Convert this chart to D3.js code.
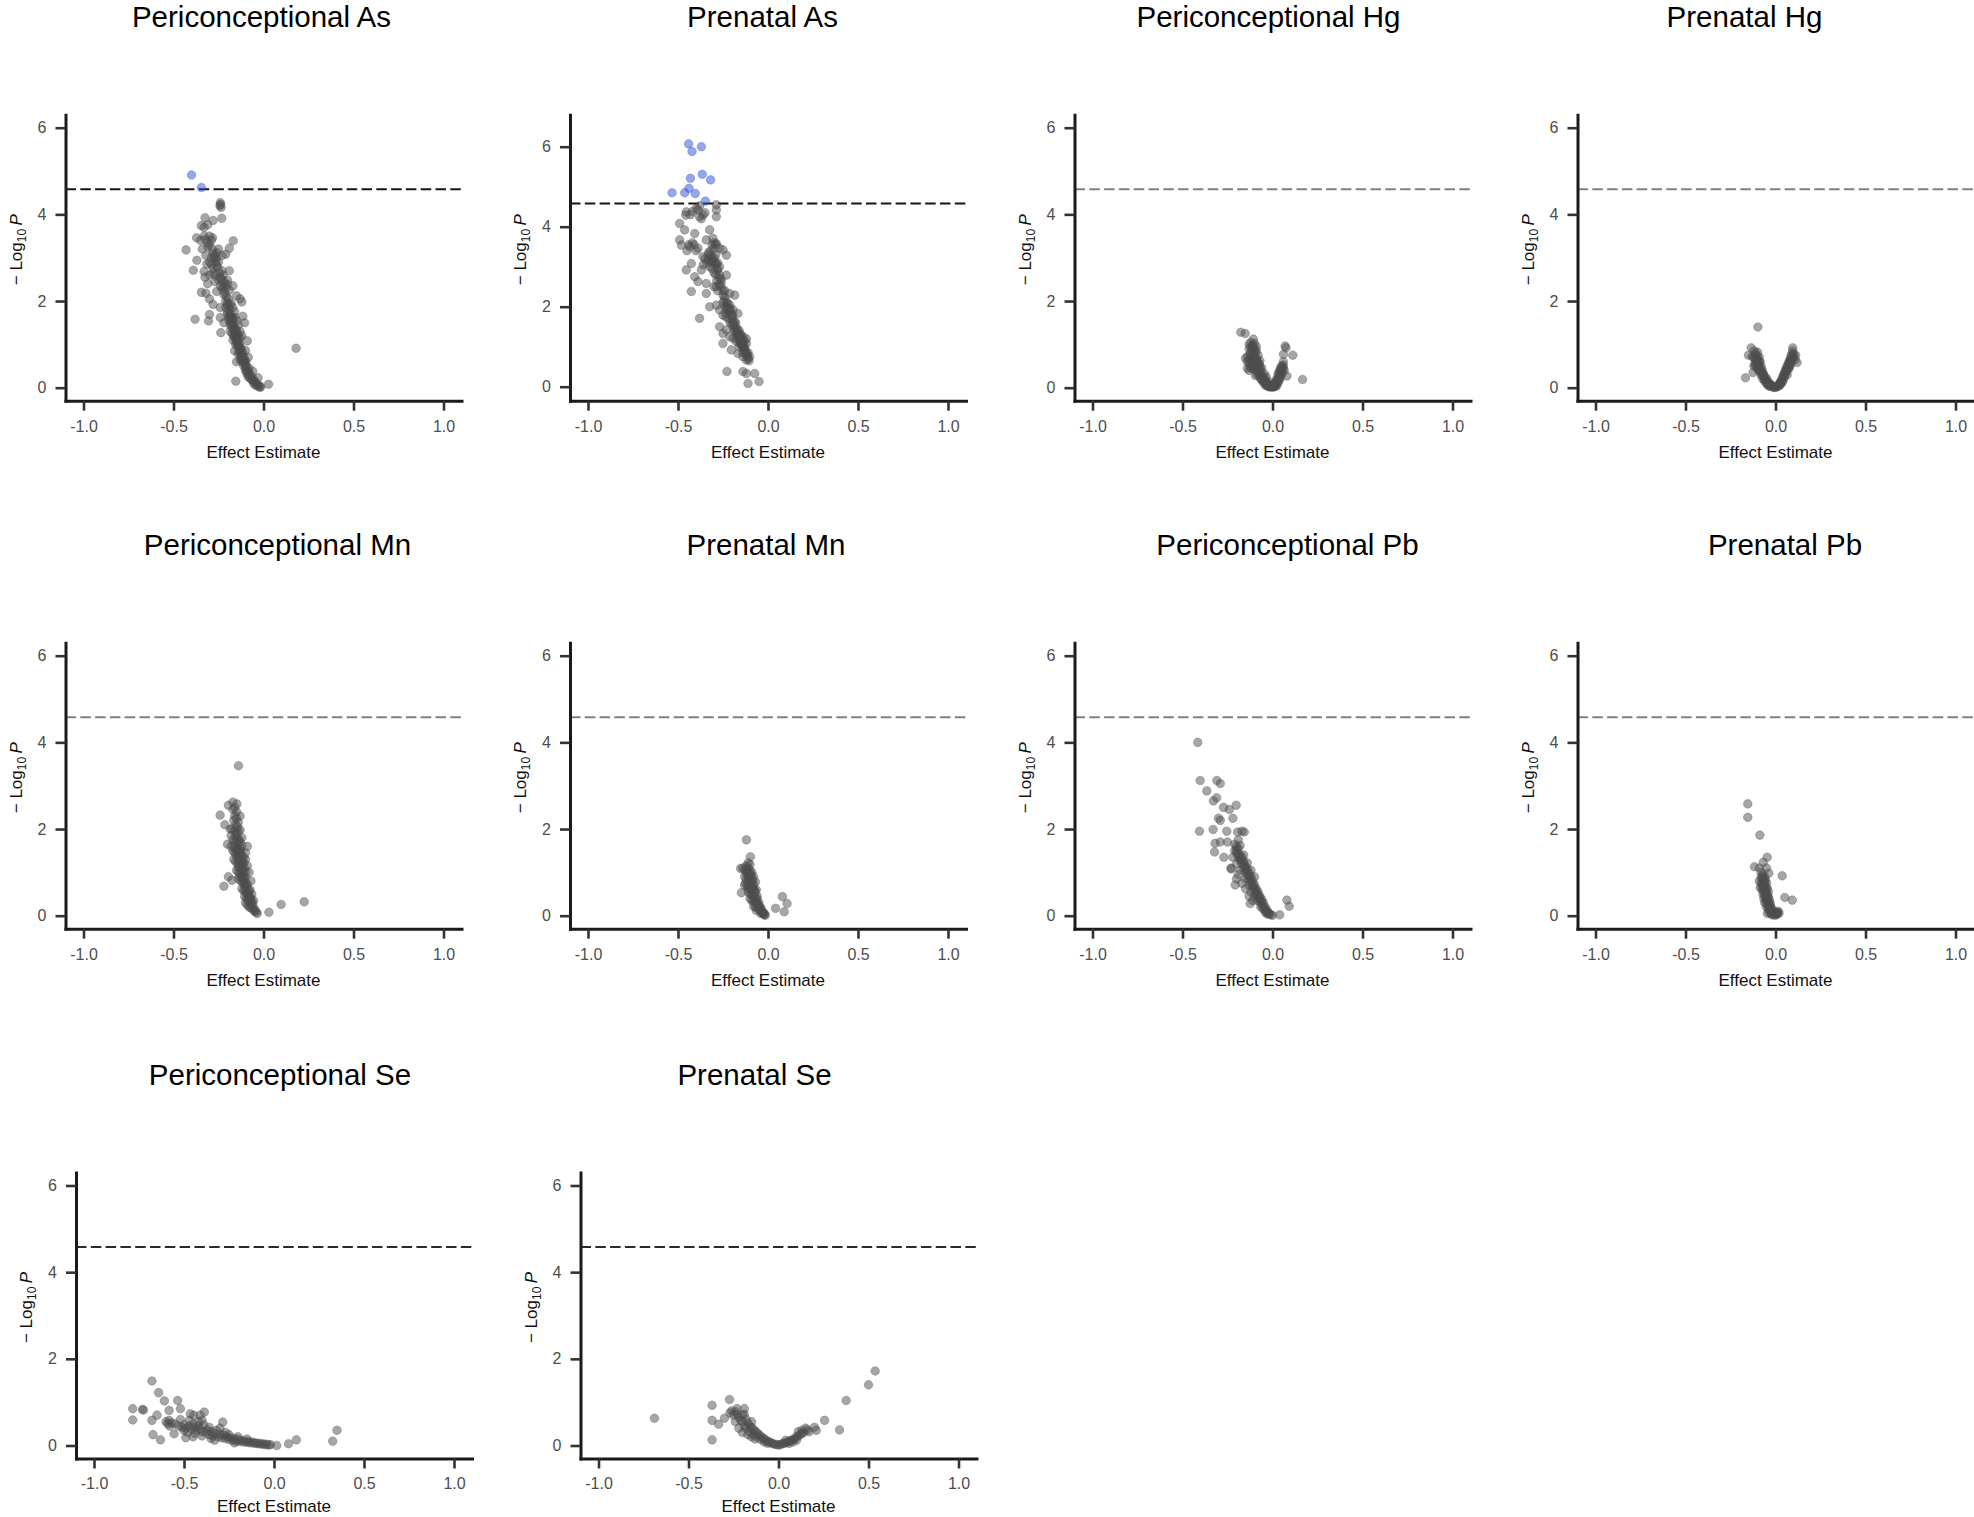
<!DOCTYPE html>
<html><head><meta charset="utf-8">
<script src="https://cdn.jsdelivr.net/npm/d3@7"></script>
<style>
body{margin:0;background:#fff}
svg{display:block;background:#fff}
text{font-family:"Liberation Sans",Arial,Helvetica,sans-serif}
</style>
</head><body>
<svg id="chart" width="1974" height="1517"></svg>
<script>
// ---------------- DATA ----------------
const panelTitles = ["Periconceptional As","Prenatal As","Periconceptional Hg","Prenatal Hg",
  "Periconceptional Mn","Prenatal Mn","Periconceptional Pb","Prenatal Pb",
  "Periconceptional Se","Prenatal Se"];
const xTickValues = [-1,-0.5,0,0.5,1];
const xTickLabels = ["-1.0","-0.5","0.0","0.5","1.0"];
const yTickValues = [0,2,4,6];
const yTickLabels = ["0","2","4","6"];
const threshold = 4.58;
const xLabel = "Effect Estimate";

const periAs = [[-0.40,4.91],[-0.345,4.62],
[-0.24,4.27],[-0.242,4.2],[-0.236,4.16],[-0.238,4.23],
[-0.325,3.92],[-0.28,3.86],[-0.232,3.91],[-0.345,3.74],[-0.31,3.76],[-0.33,3.7],
[-0.372,3.46],[-0.35,3.4],[-0.325,3.42],[-0.283,3.46],[-0.168,3.39],[-0.19,3.22],[-0.43,3.18],
[-0.31,3.25],[-0.26,3.12],[-0.23,3.05],[-0.21,3.08],[-0.25,3.2],[-0.29,3.0],
[-0.37,2.94],[-0.315,2.85],[-0.26,2.82],[-0.28,2.75],[-0.39,2.71],[-0.33,2.68],[-0.19,2.7],[-0.325,2.55],
[-0.24,2.55],[-0.2,2.48],[-0.17,2.35],[-0.345,2.2],[-0.32,2.18],[-0.3,2.05],[-0.26,2.22],[-0.23,2.28],
[-0.19,2.25],[-0.2,2.38],[-0.22,2.15],[-0.15,2.12],[-0.13,2.05],[-0.12,1.98],[-0.28,1.92],[-0.24,1.85],
[-0.2,1.9],[-0.17,1.85],[-0.16,1.75],[-0.3,1.69],[-0.38,1.58],[-0.305,1.54],[-0.24,1.62],[-0.22,1.5],
[-0.17,1.62],[-0.115,1.65],[-0.105,1.5],[-0.237,1.27],[-0.185,1.3],[-0.15,1.22],[-0.13,1.15],[-0.09,1.08],
[-0.17,1.1],[-0.155,1.0],[-0.16,0.85],[-0.14,0.78],[-0.13,0.65],[-0.1,0.62],[-0.08,0.45],[-0.06,0.38],
[-0.15,0.6],[-0.1,0.86],[-0.085,0.7],[0.181,0.91],[-0.154,0.15],[-0.055,0.15],[-0.035,0.07],[-0.015,0.02],
[0.028,0.08],[-0.03,0.23],
[-0.21,2.0],[-0.2,1.95],[-0.19,1.8],[-0.185,1.7],[-0.18,1.62],[-0.175,1.55],[-0.17,1.48],[-0.16,1.4],[-0.155,1.35],[-0.15,1.3],[-0.145,1.25],[-0.14,1.18],[-0.14,1.1],[-0.135,1.02],[-0.13,0.95],[-0.125,0.9],[-0.12,0.85],[-0.115,0.78],[-0.11,0.7],[-0.105,0.62],[-0.1,0.55],[-0.095,0.5],[-0.09,0.42],[-0.08,0.35],[-0.07,0.28],[-0.06,0.22],[-0.05,0.15],[-0.04,0.1],[-0.025,0.05],
[-0.19,1.55],[-0.175,1.4],[-0.165,1.3],[-0.16,1.15],[-0.15,1.05],[-0.145,0.95],[-0.135,0.85],[-0.125,0.75],[-0.12,0.6],[-0.11,0.5],[-0.1,0.4],[-0.09,0.32],[-0.085,0.25],
[-0.2,1.7],[-0.195,1.6],[-0.185,1.45],[-0.175,1.25],[-0.165,1.2],[-0.12,1.2],[-0.13,1.3],[-0.14,1.45],[-0.15,1.55],[-0.16,1.62],[-0.18,1.95],[-0.21,2.3],[-0.215,2.4],[-0.225,2.6],[-0.23,2.7],[-0.25,2.9],[-0.26,3.0],[-0.27,3.05],[-0.28,3.1],[-0.3,3.3],[-0.31,3.35],[-0.33,3.5],[-0.3,2.6],[-0.31,2.4],[-0.27,2.45],
[-0.225,2.35],[-0.215,2.2],[-0.205,2.1],[-0.195,2.05],[-0.185,1.9],[-0.21,1.85],[-0.2,1.75],[-0.19,1.65],[-0.175,1.6],[-0.18,1.5],[-0.17,1.42],[-0.16,1.32],[-0.155,1.2],[-0.15,1.12],[-0.145,1.08],[-0.14,1.0],[-0.135,0.92],[-0.13,0.82],[-0.125,0.7],[-0.115,0.65],[-0.11,0.58],[-0.1,0.48],[-0.095,0.38],[-0.085,0.3],[-0.075,0.22],[-0.065,0.18],[-0.055,0.1],[-0.045,0.06],[-0.03,0.03],[-0.02,0.01],
[-0.235,2.5],[-0.245,2.65],[-0.255,2.78],[-0.265,2.9],[-0.275,3.0],[-0.285,3.2],[-0.29,3.4],[-0.3,3.5],[-0.22,2.45],[-0.24,2.35],[-0.25,2.5],[-0.27,2.6],[-0.28,2.65],[-0.29,2.85],[-0.3,2.9],[-0.32,3.05],[-0.34,3.2]];

const preAs = [[-0.441,6.07],[-0.422,5.88],[-0.37,6.0],[-0.431,5.21],[-0.365,5.31],[-0.319,5.17],
[-0.533,4.85],[-0.463,4.85],[-0.439,4.96],[-0.404,4.83],[-0.348,4.64],
[-0.287,4.55],[-0.38,4.52],[-0.398,4.46],[-0.454,4.37],[-0.457,4.29],[-0.389,4.42],[-0.38,4.25],[-0.287,4.42],[-0.287,4.25],
[-0.491,4.08],[-0.463,3.92],[-0.407,3.83],[-0.324,3.92],[-0.491,3.67],[-0.481,3.54],[-0.435,3.5],[-0.389,3.46],[-0.343,3.67],
[-0.306,3.71],[-0.287,3.58],[-0.269,3.46],[-0.315,3.25],[-0.361,3.25],[-0.333,3.17],[-0.287,3.08],[-0.25,3.42],[-0.231,3.29],
[-0.426,3.08],[-0.454,2.92],[-0.37,2.92],[-0.324,3.0],[-0.269,3.0],[-0.231,2.79],[-0.407,2.75],[-0.389,2.63],[-0.343,2.58],
[-0.287,2.5],[-0.426,2.38],[-0.343,2.33],[-0.25,2.29],[-0.213,2.33],[-0.185,2.29],[-0.324,2.0],[-0.287,2.04],[-0.269,1.92],
[-0.25,1.79],[-0.231,1.83],[-0.213,2.04],[-0.194,1.92],[-0.167,1.83],[-0.38,1.71],[-0.269,1.5],[-0.25,1.33],[-0.231,1.42],
[-0.213,1.25],[-0.194,1.21],[-0.176,1.13],[-0.157,1.08],[-0.139,1.25],[-0.12,1.08],[-0.25,1.08],[-0.204,0.92],[-0.167,0.83],
[-0.139,0.75],[-0.12,0.67],[-0.102,0.75],[-0.228,0.38],[-0.139,0.38],[-0.12,0.33],[-0.074,0.33],[-0.111,0.08],[-0.05,0.13],
[-0.3,3.6],[-0.29,3.55],[-0.31,3.2],[-0.32,3.15],[-0.3,3.12],[-0.28,2.9],[-0.29,2.8],[-0.27,2.7],[-0.26,2.62],[-0.27,2.55],
[-0.25,2.1],[-0.24,2.0],[-0.23,1.95],[-0.22,1.9],[-0.235,1.75],[-0.22,1.7],[-0.21,1.6],[-0.2,1.55],[-0.19,1.45],[-0.185,1.38],
[-0.17,1.3],[-0.165,1.25],[-0.155,1.18],[-0.15,1.12],[-0.145,1.05],[-0.14,1.0],[-0.135,0.95],[-0.13,0.9],[-0.125,0.85],[-0.115,0.8],
[-0.2,1.8],[-0.18,1.6],[-0.16,1.4],[-0.15,1.3],[-0.13,1.15],[-0.12,1.2],[-0.175,1.2],[-0.16,1.0],[-0.14,0.85],
[-0.43,4.3],[-0.42,4.38],[-0.36,4.3],[-0.35,4.35],[-0.37,4.2],[-0.41,3.55],[-0.44,3.55],[-0.33,3.3],[-0.34,3.1],[-0.31,2.95],[-0.3,2.5],[-0.28,2.4],
[-0.31,3.55],[-0.3,3.45],[-0.32,3.4],[-0.33,3.35],[-0.29,3.3],[-0.3,3.22],[-0.31,3.1],[-0.29,3.05],[-0.28,2.95],[-0.3,2.85],[-0.27,2.8],[-0.285,2.65],[-0.26,2.5],[-0.25,2.4],[-0.24,2.25],[-0.245,2.15],[-0.23,2.1],[-0.225,2.0],[-0.215,1.95],[-0.21,1.85],[-0.2,1.7],[-0.195,1.62],[-0.19,1.55],[-0.18,1.48],[-0.175,1.4],[-0.17,1.35],[-0.16,1.28],[-0.155,1.22],[-0.15,1.15],[-0.145,1.1],[-0.14,1.05],[-0.135,0.98],[-0.13,0.92],[-0.125,0.88],[-0.12,0.82],[-0.115,0.75],[-0.11,0.7],[-0.105,0.65],[-0.11,0.85],[-0.13,1.0],[-0.14,1.15],[-0.155,1.3],[-0.17,1.45],[-0.185,1.62],[-0.195,1.78],[-0.21,1.95],[-0.225,2.1],[-0.24,2.4],[-0.26,2.7],[-0.28,3.1],[-0.35,3.2],[-0.36,3.05],[-0.4,3.4],[-0.42,3.6],[-0.45,3.4]];

const periHg = [[-0.176,1.28],[-0.152,1.25],[-0.106,1.12],[0.07,0.96],[0.061,0.77],[0.113,0.75],[0.167,0.19],[0.08,0.27],[0.075,0.92],[-0.12,1.05],
[-0.13,1.0],[-0.12,0.95],[-0.11,0.98],[-0.1,1.02],[-0.09,0.95],[-0.115,0.88],[-0.105,0.85],[-0.095,0.82],[-0.125,0.78],[-0.14,0.72],
[-0.15,0.68],[-0.13,0.66],[-0.12,0.7],[-0.11,0.72],[-0.1,0.7],[-0.09,0.68],[-0.08,0.75],[-0.085,0.6],[-0.095,0.55],[-0.105,0.58],
[-0.115,0.6],[-0.125,0.5],[-0.14,0.45],[-0.11,0.45],[-0.1,0.42],[-0.09,0.4],[-0.08,0.45],[-0.07,0.5],[-0.065,0.38],[-0.075,0.32],
[-0.085,0.3],[-0.095,0.28],[-0.06,0.3],[-0.055,0.25],[-0.05,0.2],[-0.045,0.22],[-0.065,0.2],[-0.04,0.15],[-0.035,0.12],[-0.03,0.1],
[-0.025,0.08],[-0.02,0.06],[-0.015,0.04],[-0.01,0.02],[-0.005,0.01],[-0.05,0.12],[-0.04,0.06],[-0.03,0.04],[-0.02,0.02],[-0.1,0.5],
[-0.12,0.55],[-0.13,0.6],[-0.07,0.62],[-0.075,0.55],[-0.06,0.45],[-0.045,0.32],[-0.035,0.25],[-0.025,0.15],
[0.005,0.02],[0.01,0.05],[0.015,0.08],[0.02,0.12],[0.025,0.18],[0.03,0.2],[0.035,0.25],[0.04,0.3],[0.045,0.36],[0.05,0.42],
[0.055,0.48],[0.06,0.52],[0.05,0.3],[0.04,0.2],[0.03,0.12],[0.02,0.06],[0.01,0.02],[0.045,0.25],[0.055,0.35],[0.065,0.4],
[0.06,0.6],[0.035,0.15],[0.025,0.05],[0.015,0.03],
[-0.11,0.92],[-0.1,0.9],[-0.09,0.85],[-0.12,0.82],[-0.1,0.78],[-0.09,0.62],[-0.08,0.58],[-0.07,0.45],[-0.1,0.62],[-0.11,0.52],
[-0.12,0.45],[-0.08,0.35],[-0.07,0.25],[-0.06,0.18],[-0.05,0.15],[-0.04,0.1],[-0.03,0.06],[-0.02,0.03],[0.04,0.4],[0.05,0.5],
[0.06,0.45],[0.045,0.45],[0.035,0.35],[0.03,0.3],[0.02,0.18],[0.01,0.1],[0.0,0.03],[-0.13,0.9],[-0.14,0.6],[-0.13,0.4]];

const preHg = [[-0.098,1.4],[-0.135,0.92],[-0.167,0.23],[-0.15,0.75],[0.096,0.92],[0.12,0.58],[0.112,0.75],[-0.125,0.35],[0.1,0.75],[0.085,0.65],
[-0.12,0.85],[-0.11,0.8],[-0.1,0.82],[-0.12,0.7],[-0.13,0.72],[-0.11,0.68],[-0.1,0.65],[-0.09,0.7],[-0.085,0.6],[-0.095,0.55],
[-0.105,0.58],[-0.115,0.55],[-0.12,0.5],[-0.1,0.45],[-0.09,0.48],[-0.08,0.5],[-0.075,0.42],[-0.085,0.38],[-0.095,0.4],[-0.07,0.35],
[-0.065,0.3],[-0.075,0.28],[-0.06,0.25],[-0.055,0.2],[-0.05,0.22],[-0.045,0.15],[-0.04,0.12],[-0.035,0.1],[-0.03,0.08],[-0.025,0.06],
[-0.02,0.04],[-0.015,0.02],[-0.01,0.01],[-0.005,0.005],[-0.06,0.15],[-0.05,0.1],[-0.04,0.05],[-0.03,0.03],[-0.08,0.3],[-0.07,0.2],
[-0.1,0.6],[-0.11,0.5],
[0.005,0.01],[0.01,0.03],[0.015,0.05],[0.02,0.08],[0.025,0.12],[0.03,0.15],[0.035,0.2],[0.04,0.25],[0.045,0.3],[0.05,0.35],
[0.055,0.4],[0.06,0.45],[0.065,0.5],[0.07,0.55],[0.075,0.6],[0.08,0.65],[0.085,0.72],[0.09,0.78],[0.07,0.42],[0.06,0.35],
[0.05,0.25],[0.04,0.15],[0.03,0.08],[0.02,0.04],[0.08,0.5],[0.09,0.6],[0.1,0.68],[0.095,0.85],[0.075,0.45],[0.065,0.3],
[-0.11,0.75],[-0.1,0.72],[-0.09,0.6],[-0.08,0.4],[-0.07,0.3],[-0.06,0.2],[-0.05,0.15],[-0.045,0.08],[-0.035,0.05],[-0.11,0.62],
[-0.1,0.52],[-0.09,0.42],[0.05,0.3],[0.06,0.4],[0.07,0.48],[0.08,0.58],[0.09,0.68],[0.1,0.78],[0.11,0.65],[0.045,0.2],
[0.035,0.12],[0.025,0.08],[0.085,0.55]];

const periMn = [[-0.139,3.46],[-0.241,2.32],[-0.17,2.62],[-0.195,2.55],[-0.148,2.58],[-0.13,2.3],[-0.185,2.0],[-0.22,0.68],[-0.195,0.9],[-0.175,0.82],
[0.098,0.26],[0.226,0.32],[0.03,0.08],[-0.215,2.1],[-0.2,1.65],
[-0.17,2.45],[-0.16,2.5],[-0.15,2.4],[-0.165,2.2],[-0.155,2.1],[-0.14,2.15],[-0.175,2.0],[-0.16,1.95],[-0.15,1.9],[-0.14,1.95],
[-0.13,1.98],[-0.18,1.85],[-0.17,1.75],[-0.16,1.7],[-0.15,1.72],[-0.14,1.68],[-0.13,1.7],[-0.12,1.62],[-0.18,1.6],[-0.17,1.5],
[-0.16,1.45],[-0.15,1.5],[-0.14,1.4],[-0.13,1.45],[-0.12,1.38],[-0.11,1.35],[-0.165,1.3],[-0.155,1.25],[-0.145,1.2],[-0.135,1.22],
[-0.125,1.18],[-0.115,1.15],[-0.105,1.1],[-0.15,1.05],[-0.14,1.0],[-0.13,0.98],[-0.12,0.95],[-0.11,0.9],[-0.1,0.88],[-0.14,0.85],
[-0.125,0.8],[-0.115,0.75],[-0.105,0.72],[-0.095,0.7],[-0.12,0.62],[-0.11,0.58],[-0.1,0.55],[-0.09,0.5],[-0.08,0.48],[-0.105,0.45],
[-0.095,0.4],[-0.085,0.35],[-0.075,0.3],[-0.09,0.25],[-0.08,0.2],[-0.07,0.18],[-0.06,0.15],[-0.05,0.1],[-0.04,0.08],[-0.035,0.05],
[-0.06,0.3],[-0.07,0.4],[-0.1,1.3],[-0.09,1.15],[-0.08,1.0],[-0.1,1.45],[-0.09,1.6],[-0.12,1.8],[-0.13,1.55],[-0.07,0.8],
[-0.075,0.6],[-0.065,0.5],[-0.055,0.35],[-0.1,0.3],
[-0.16,2.3],[-0.15,2.25],[-0.145,2.05],[-0.155,1.85],[-0.145,1.8],[-0.135,1.75],[-0.165,1.6],[-0.155,1.55],[-0.145,1.52],[-0.135,1.5],
[-0.125,1.48],[-0.15,1.38],[-0.14,1.32],[-0.13,1.3],[-0.12,1.28],[-0.11,1.22],[-0.14,1.12],[-0.13,1.1],[-0.12,1.05],[-0.11,1.02],
[-0.1,1.0],[-0.13,0.9],[-0.12,0.88],[-0.11,0.82],[-0.1,0.78],[-0.09,0.72],[-0.1,0.65],[-0.09,0.6],[-0.08,0.58],[-0.085,0.45],
[-0.075,0.4],[-0.065,0.28],[-0.055,0.2],[-0.045,0.12]];

const preMn = [[-0.12,1.75],[-0.098,1.36],[-0.11,1.22],[-0.152,1.09],[-0.148,0.53],[0.08,0.44],[0.106,0.28],[0.09,0.09],[0.042,0.17],[-0.14,1.1],
[-0.13,0.9],[-0.13,0.7],
[-0.13,1.05],[-0.12,1.08],[-0.11,1.1],[-0.1,1.05],[-0.09,1.0],[-0.12,0.95],[-0.11,0.9],[-0.1,0.92],[-0.09,0.88],[-0.08,0.9],
[-0.12,0.82],[-0.11,0.78],[-0.1,0.8],[-0.09,0.75],[-0.08,0.72],[-0.07,0.78],[-0.115,0.68],[-0.105,0.65],[-0.095,0.62],[-0.085,0.6],
[-0.075,0.58],[-0.065,0.6],[-0.11,0.55],[-0.1,0.5],[-0.09,0.48],[-0.08,0.45],[-0.07,0.42],[-0.06,0.45],[-0.1,0.4],[-0.09,0.35],
[-0.08,0.32],[-0.07,0.3],[-0.06,0.28],[-0.05,0.3],[-0.08,0.22],[-0.07,0.2],[-0.06,0.18],[-0.05,0.15],[-0.04,0.12],[-0.035,0.08],
[-0.03,0.06],[-0.025,0.04],[-0.02,0.02],[-0.015,0.01],[-0.045,0.2],[-0.055,0.25],[-0.04,0.05],[-0.065,0.12],
[-0.115,1.0],[-0.105,0.98],[-0.095,0.95],[-0.085,0.82],[-0.1,0.7],[-0.09,0.65],[-0.08,0.62],[-0.07,0.55],[-0.08,0.52],[-0.06,0.38],
[-0.07,0.35],[-0.05,0.22],[-0.04,0.18],[-0.03,0.1],[-0.02,0.05],[-0.125,0.75],[-0.11,0.62],[-0.12,1.15],[-0.1,1.18]];

const periPb = [[-0.415,4.0],[-0.402,3.12],[-0.309,3.12],[-0.29,3.05],[-0.365,2.88],[-0.31,2.72],[-0.328,2.65],[-0.272,2.5],[-0.202,2.55],[-0.406,1.95],
[-0.33,1.99],[-0.29,2.2],[-0.254,1.95],[-0.194,1.93],[-0.157,1.93],[-0.319,1.67],[-0.29,1.7],[-0.322,1.47],[-0.27,1.35],[-0.207,0.71],
[-0.124,0.28],[0.08,0.36],[0.093,0.22],[0.04,0.02],[-0.3,2.25],[-0.24,2.45],[-0.22,2.25],[-0.25,1.7],[-0.23,1.1],[-0.17,1.95],
[-0.19,1.75],[-0.18,1.62],
[-0.2,1.6],[-0.19,1.55],[-0.21,1.5],[-0.2,1.45],[-0.18,1.4],[-0.19,1.35],[-0.17,1.35],[-0.18,1.28],[-0.16,1.25],[-0.17,1.2],
[-0.15,1.15],[-0.16,1.1],[-0.14,1.08],[-0.15,1.02],[-0.13,0.98],[-0.14,0.92],[-0.12,0.9],[-0.13,0.85],[-0.11,0.8],[-0.12,0.75],
[-0.1,0.72],[-0.11,0.65],[-0.09,0.62],[-0.1,0.58],[-0.08,0.55],[-0.09,0.5],[-0.07,0.45],[-0.08,0.4],[-0.06,0.38],[-0.07,0.32],
[-0.05,0.3],[-0.06,0.25],[-0.04,0.2],[-0.05,0.15],[-0.03,0.12],[-0.04,0.08],[-0.02,0.06],[-0.03,0.04],[-0.01,0.02],[0.0,0.01],
[-0.22,1.35],[-0.2,1.2],[-0.23,1.08],[-0.18,1.05],[-0.15,0.85],[-0.13,0.7],[-0.12,0.55],[-0.1,0.45],[-0.085,0.35],[-0.065,0.2],
[-0.16,1.4],[-0.14,1.22],[-0.12,1.05],[-0.1,0.9],[-0.19,0.95],[-0.2,0.85],[-0.17,0.75],[-0.15,0.62],[-0.13,0.45],[-0.11,0.35],
[-0.21,1.65],[-0.2,1.52],[-0.19,1.42],[-0.18,1.32],[-0.17,1.28],[-0.16,1.18],[-0.15,1.08],[-0.14,1.0],[-0.13,0.92],[-0.12,0.82],
[-0.11,0.72],[-0.1,0.65],[-0.09,0.55],[-0.08,0.48],[-0.07,0.4],[-0.06,0.32],[-0.05,0.22],[-0.04,0.15],[-0.03,0.08],[-0.02,0.04]];

const prePb = [[-0.154,2.58],[-0.154,2.27],[-0.087,1.86],[-0.046,1.35],[-0.068,1.23],[-0.117,1.13],[0.037,0.92],[0.052,0.42],[0.093,0.36],[-0.037,0.98],
[-0.09,1.1],[-0.05,1.1],
[-0.08,1.0],[-0.07,0.95],[-0.06,0.9],[-0.075,0.85],[-0.065,0.8],[-0.055,0.82],[-0.08,0.75],[-0.07,0.7],[-0.06,0.72],[-0.05,0.75],
[-0.075,0.62],[-0.065,0.6],[-0.055,0.58],[-0.045,0.62],[-0.07,0.5],[-0.06,0.48],[-0.05,0.5],[-0.04,0.45],[-0.065,0.4],[-0.055,0.38],
[-0.045,0.35],[-0.035,0.38],[-0.06,0.3],[-0.05,0.28],[-0.04,0.25],[-0.03,0.22],[-0.05,0.2],[-0.04,0.15],[-0.03,0.12],[-0.02,0.1],
[-0.035,0.08],[-0.025,0.05],[-0.015,0.04],[-0.01,0.06],[0.0,0.05],[0.01,0.08],[0.015,0.1],[0.02,0.06],[0.005,0.02],[-0.005,0.01],
[-0.02,0.02],[-0.045,0.05],[-0.085,0.65],[-0.09,0.8],[-0.03,0.3],[-0.025,0.18],
[-0.07,0.88],[-0.06,0.82],[-0.05,0.65],[-0.04,0.55],[-0.06,0.62],[-0.07,0.58],[-0.05,0.42],[-0.04,0.32],[-0.03,0.25],[-0.02,0.15],
[-0.01,0.1],[0.005,0.06],[0.01,0.04],[-0.075,0.72],[-0.065,0.68],[-0.055,0.52],[-0.045,0.45],[-0.035,0.18],[-0.08,0.9]];

const periSe = [[-0.678,1.49],[-0.641,1.22],[-0.609,1.03],[-0.535,1.04],[-0.52,0.85],[-0.785,0.85],[-0.785,0.59],[-0.731,0.83],[-0.725,0.82],[-0.678,0.58],
[-0.65,0.7],[-0.672,0.25],[-0.631,0.13],[-0.583,0.81],[-0.583,0.58],[-0.555,0.27],[-0.465,0.73],[-0.387,0.77],[-0.445,0.7],[-0.41,0.7],
[-0.285,0.54],[0.081,0.04],[0.124,0.13],[0.326,0.1],[0.35,0.35],[0.015,0.0],[-0.6,0.55],[-0.59,0.5],
[-0.57,0.52],[-0.55,0.5],[-0.53,0.45],[-0.51,0.42],[-0.5,0.48],[-0.49,0.4],[-0.47,0.45],[-0.46,0.38],[-0.45,0.5],[-0.44,0.42],
[-0.43,0.35],[-0.42,0.45],[-0.41,0.38],[-0.4,0.32],[-0.39,0.48],[-0.38,0.3],[-0.37,0.36],[-0.36,0.25],[-0.35,0.32],[-0.34,0.22],
[-0.33,0.28],[-0.32,0.35],[-0.31,0.2],[-0.3,0.26],[-0.29,0.18],[-0.28,0.24],[-0.27,0.16],[-0.26,0.2],[-0.25,0.14],[-0.24,0.18],
[-0.23,0.12],[-0.22,0.16],[-0.21,0.1],[-0.2,0.14],[-0.19,0.09],[-0.18,0.12],[-0.17,0.08],[-0.16,0.1],[-0.15,0.07],[-0.14,0.09],
[-0.13,0.06],[-0.12,0.08],[-0.11,0.05],[-0.1,0.06],[-0.09,0.04],[-0.08,0.05],[-0.07,0.03],[-0.06,0.04],[-0.05,0.02],[-0.04,0.03],
[-0.03,0.01],[-0.02,0.02],[-0.48,0.3],[-0.5,0.35],[-0.44,0.28],[-0.42,0.55],[-0.4,0.58],[-0.47,0.58],[-0.52,0.6],[-0.3,0.4],
[-0.27,0.3],[-0.25,0.25],[-0.2,0.2],[-0.15,0.15],[-0.4,0.22],[-0.35,0.16],[-0.45,0.2],[-0.49,0.18],[-0.58,0.45],[-0.36,0.42],
[-0.33,0.12],[-0.22,0.06]];

const preSe = [[-0.689,0.63],[-0.369,0.93],[-0.369,0.58],[-0.369,0.13],[-0.333,0.49],[-0.272,1.06],[-0.3,0.63],[-0.19,0.85],[0.15,0.4],[0.2,0.42],
[0.21,0.35],[0.256,0.58],[0.339,0.36],[0.376,1.04],[0.5,1.4],[0.537,1.72],[0.13,0.35],[0.17,0.32],
[-0.26,0.8],[-0.24,0.78],[-0.25,0.7],[-0.23,0.72],[-0.22,0.65],[-0.2,0.7],[-0.19,0.72],[-0.21,0.58],[-0.2,0.55],[-0.18,0.6],
[-0.17,0.52],[-0.19,0.45],[-0.16,0.45],[-0.18,0.4],[-0.15,0.42],[-0.14,0.38],[-0.16,0.32],[-0.13,0.33],[-0.12,0.3],[-0.14,0.25],
[-0.11,0.26],[-0.1,0.22],[-0.12,0.2],[-0.09,0.18],[-0.08,0.16],[-0.1,0.14],[-0.07,0.12],[-0.06,0.1],[-0.08,0.08],[-0.05,0.08],
[-0.04,0.06],[-0.06,0.05],[-0.03,0.04],[-0.02,0.03],[-0.01,0.02],[-0.2,0.3],[-0.22,0.4],[-0.24,0.55],[-0.17,0.25],[-0.15,0.2],
[-0.13,0.15],[-0.27,0.75],[-0.23,0.85],[-0.15,0.55],
[0.0,0.01],[0.01,0.02],[0.02,0.04],[0.03,0.05],[0.04,0.06],[0.05,0.08],[0.06,0.1],[0.07,0.12],[0.08,0.14],[0.09,0.16],
[0.1,0.2],[0.11,0.22],[0.12,0.25],[0.13,0.28],[0.14,0.3],[0.06,0.05],[0.08,0.08],[0.1,0.12],[0.04,0.12],[0.16,0.36],[0.11,0.32]];

const panelSeries = [periAs, preAs, periHg, preHg, periMn, preMn, periPb, prePb, periSe, preSe];
const yMaxes = [6.3, 6.8, 6.3, 6.3, 6.3, 6.3, 6.3, 6.3, 6.3, 6.3];
const yMins  = [-0.3, -0.35, -0.3, -0.3, -0.3, -0.3, -0.3, -0.3, -0.3, -0.3];

// ---------------- LAYOUT / STYLE ----------------
const PW = 396, PH = 286;
const panelLeft = [65.5, 570, 1074.5, 1577.5, 65.5, 570, 1074.5, 1577.5, 76, 580.5];
const panelTop  = [114.7,114.7,114.7,114.7, 642.7,642.7,642.7,642.7, 1172.5,1172.5];
const titleDx   = [-2,-5.5,-4,-31, 14,-2,15,9.5, 6,-24];
const xLabelDy  = [57,57,57,57, 57,57,57,57, 53.5,53.5];
const hlineColor = ["#151515","#151515","#808080","#808080","#808080","#808080","#808080","#808080","#2a2a2a","#2a2a2a"];
const grayBase = "#4d4d4d", blueBase = "#2b4fd6";

const svg = d3.select("#chart");
svg.append("rect").attr("width",1974).attr("height",1517).attr("fill","#fff");

panelSeries.forEach((series, i) => {
  const left = panelLeft[i], top = panelTop[i];
  const x = d3.scaleLinear().domain([-1.1, 1.1]).range([0, PW]);
  const y = d3.scaleLinear().domain([yMins[i], yMaxes[i]]).range([PH, 0]);
  const g = svg.append("g").attr("transform", `translate(${left},${top})`);

  g.append("line")
    .attr("x1", 0).attr("x2", PW)
    .attr("y1", y(threshold)).attr("y2", y(threshold))
    .attr("stroke", hlineColor[i]).attr("stroke-width", 1.9)
    .attr("stroke-dasharray", "10.5,4.3");

  g.append("g").selectAll("circle").data(series).join("circle")
    .attr("cx", d => x(d[0])).attr("cy", d => y(d[1])).attr("r", 4.3)
    .attr("fill", d => d[1] > threshold ? blueBase : grayBase)
    .attr("fill-opacity", 0.5)
    .attr("stroke", d => d[1] > threshold ? blueBase : grayBase)
    .attr("stroke-opacity", 0.4)
    .attr("stroke-width", 0.8);

  const xa = g.append("g").attr("transform", `translate(0,${PH})`)
    .call(d3.axisBottom(x).tickValues(xTickValues).tickFormat((d, k) => xTickLabels[k])
      .tickSize(10).tickSizeOuter(0).tickPadding(9.5));
  const ya = g.append("g")
    .call(d3.axisLeft(y).tickValues(yTickValues).tickFormat((d, k) => yTickLabels[k])
      .tickSize(10).tickSizeOuter(0).tickPadding(9));
  [xa, ya].forEach(a => {
    a.select(".domain").attr("stroke", "#1a1a1a").attr("stroke-width", 3).attr("stroke-linecap", "square");
    a.selectAll(".tick line").attr("stroke", "#333").attr("stroke-width", 2.6);
    a.selectAll(".tick text").attr("fill", "#4d4d4d")
      .style("font-size", "16px").style("font-family", '"Liberation Sans", Arial, sans-serif');
  });

  g.append("text").attr("x", PW / 2 + titleDx[i]).attr("y", -87.5)
    .attr("text-anchor", "middle").attr("fill", "#000")
    .style("font-size", "29.5px").text(panelTitles[i]);

  g.append("text").attr("x", PW / 2).attr("y", PH + xLabelDy[i])
    .attr("text-anchor", "middle").attr("fill", "#111")
    .style("font-size", "17px").text(xLabel);

  const yl = g.append("text")
    .attr("transform", `translate(-44,${PH / 2 - 8}) rotate(-90)`)
    .attr("text-anchor", "middle").attr("fill", "#111").style("font-size", "17px");
  yl.append("tspan").text("\u2212 Log");
  yl.append("tspan").attr("dy", 4).style("font-size", "12px").text("10");
  yl.append("tspan").attr("dy", -4).text("\u2009");
  yl.append("tspan").style("font-style", "italic").text("P");
});
</script>
</body></html>
